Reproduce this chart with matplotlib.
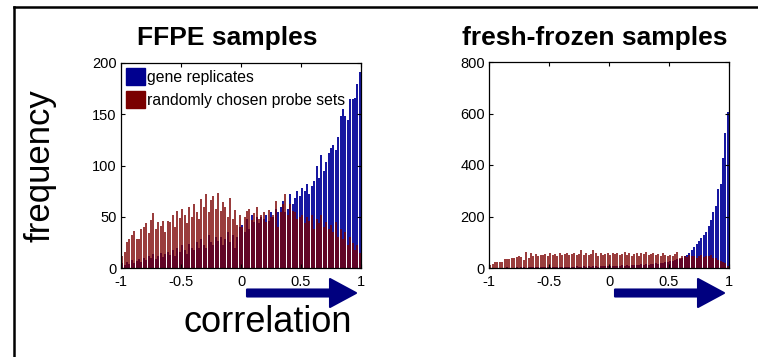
import numpy as np
import matplotlib
matplotlib.use("Agg")
import matplotlib.pyplot as plt
from matplotlib.patches import Patch, FancyArrow
from matplotlib.lines import Line2D
from matplotlib.transforms import IdentityTransform

plt.rcParams['font.family'] = ['Liberation Sans', 'DejaVu Sans']

# 100 bins of width 0.02 covering the correlation range [-1, 1]
bin_edges = np.linspace(-1, 1, 101)
bin_centers = (bin_edges[:-1] + bin_edges[1:]) / 2

# --- FFPE samples ---
ffpe_gene = [
    5, 3, 6, 4, 8, 5, 7, 9, 6, 10,
    8, 12, 10, 14, 9, 12, 15, 11, 14, 16,
    13, 18, 12, 20, 16, 22, 18, 14, 23, 20,
    18, 25, 20, 28, 22, 20, 32, 25, 22, 30,
    26, 30, 22, 28, 35, 25, 32, 20, 30, 40,
    42, 35, 48, 38, 52, 45, 50, 44, 50, 48,
    52, 46, 55, 50, 58, 55, 60, 65, 55, 58,
    72, 62, 68, 75, 70, 78, 75, 82, 72, 80,
    85, 100, 88, 110, 95, 103, 112, 117, 120, 115,
    128, 148, 155, 148, 144, 165, 165, 166, 180, 191,
]
ffpe_random = [
    12, 16, 25, 28, 32, 36, 28, 28, 38, 40,
    44, 34, 47, 54, 38, 45, 41, 46, 35, 46,
    45, 52, 40, 56, 49, 58, 52, 44, 60, 50,
    62, 55, 48, 67, 60, 72, 55, 66, 70, 58,
    73, 56, 64, 60, 50, 68, 48, 57, 42, 52,
    40, 50, 56, 58, 47, 54, 60, 48, 52, 55,
    45, 57, 50, 52, 65, 40, 55, 62, 72, 52,
    62, 56, 55, 48, 50, 52, 44, 50, 46, 52,
    38, 48, 44, 52, 40, 45, 38, 42, 35, 45,
    30, 38, 28, 35, 22, 30, 24, 18, 22, 15,
]

# --- fresh-frozen samples ---
ff_gene = [
    0, 1, 0, 1, 1, 0, 1, 2, 1, 1,
    1, 2, 1, 2, 2, 1, 2, 3, 2, 2,
    2, 3, 2, 3, 4, 3, 3, 4, 3, 4,
    4, 3, 5, 4, 4, 5, 6, 4, 5, 6,
    5, 6, 4, 7, 6, 5, 7, 6, 8, 7,
    6, 8, 7, 9, 8, 10, 8, 11, 9, 12,
    10, 12, 11, 14, 12, 15, 13, 16, 14, 18,
    16, 20, 18, 24, 22, 26, 28, 30, 34, 36,
    38, 45, 52, 60, 68, 80, 92, 104, 117, 130,
    140, 164, 186, 218, 242, 306, 326, 427, 524, 605,
]
ff_random = [
    10, 14, 22, 25, 24, 22, 35, 34, 36, 40,
    38, 42, 46, 44, 30, 62, 40, 58, 48, 55,
    45, 52, 50, 56, 48, 58, 52, 55, 48, 58,
    50, 55, 60, 50, 55, 58, 50, 55, 68, 52,
    60, 50, 55, 70, 58, 48, 60, 52, 55, 58,
    52, 60, 55, 58, 50, 55, 62, 52, 58, 48,
    55, 60, 45, 58, 55, 62, 50, 55, 58, 52,
    55, 48, 58, 52, 45, 50, 48, 55, 62, 40,
    48, 45, 42, 50, 45, 48, 40, 45, 50, 42,
    45, 48, 50, 40, 38, 32, 28, 22, 18, 8,
]

panels = [
    ("FFPE samples", ffpe_gene, ffpe_random, 200, [0, 50, 100, 150, 200]),
    ("fresh-frozen samples", ff_gene, ff_random, 800, [0, 200, 400, 600, 800]),
]
x_ticks = [-1, -0.5, 0, 0.5, 1]
x_ticklabels = ["-1", "-0.5", "0", "0.5", "1"]

blue = "#0a0a9c"
red = "#7a0000"

W, H = 758, 357
fig = plt.figure(figsize=(W / 100, H / 100), dpi=100)

axes_boxes = [
    [121 / W, 89 / H, 240 / W, 205 / H],
    [489 / W, 89 / H, 240 / W, 206 / H],
]
title_x = [227 / W, 595 / W]

for box, tx, (title, gene, rand, ymax, yticks) in zip(axes_boxes, title_x, panels):
    ax = fig.add_axes(box)
    ax.bar(bin_centers, gene, width=0.016, color=blue, alpha=0.95,
           linewidth=0)
    ax.bar(bin_centers, rand, width=0.016, color=red, alpha=0.76,
           linewidth=0)
    ax.set_xlim(-1, 1)
    ax.set_ylim(0, ymax)
    ax.set_xticks(x_ticks)
    ax.set_xticklabels(x_ticklabels)
    ax.set_yticks(yticks)
    ax.tick_params(direction="in", length=3, width=0.8, labelsize=10.5,
                   top=True, right=True)
    ax.tick_params(axis="x", pad=5)
    ax.tick_params(axis="y", pad=3)
    for s in ax.spines.values():
        s.set_linewidth(0.9)
    # panel title
    fig.text(tx, 1 - 45 / H, title, ha="center", va="baseline",
             fontsize=19, fontweight="bold")

    # arrow under the x axis pointing to high correlation
    bb = ax.get_position()
    x0 = (bb.x0 + bb.width * 0.525) * W
    x1 = bb.x1 * W - 5
    yc = bb.y0 * H - 25
    fig.add_artist(FancyArrow(x0, yc, x1 - x0, 0, width=7, head_width=28,
                              head_length=26, length_includes_head=True,
                              color="#00007f", joinstyle="round",
                              capstyle="round", linewidth=1.5,
                              transform=IdentityTransform()))

    if title.startswith("FFPE"):
        ax.legend(handles=[Patch(facecolor="#00008f", edgecolor="#00008f"),
                           Patch(facecolor="#7a0000", edgecolor="#7a0000")],
                  labels=["gene replicates", "randomly chosen probe sets"],
                  loc="upper left", frameon=False, fontsize=11.3,
                  handlelength=1.2, handleheight=1.3, handletextpad=0.15,
                  labelspacing=0.4, borderaxespad=0.1, borderpad=0.2)

fig.text(40 / W, 1 - 166 / H, "frequency", rotation=90, ha="center",
         va="center", fontsize=25)
fig.text(268 / W, 1 - 322 / H, "correlation", ha="center", va="center",
         fontsize=26)

# partial frame along the left and top edges
fig.add_artist(Line2D([14 / W, 14 / W], [0, 1 - 7 / H], color="black",
                      linewidth=1.8, transform=fig.transFigure))
fig.add_artist(Line2D([14 / W, 1], [1 - 7 / H, 1 - 7 / H], color="black",
                      linewidth=1.8, transform=fig.transFigure))

fig.savefig("out.png", dpi=100)
